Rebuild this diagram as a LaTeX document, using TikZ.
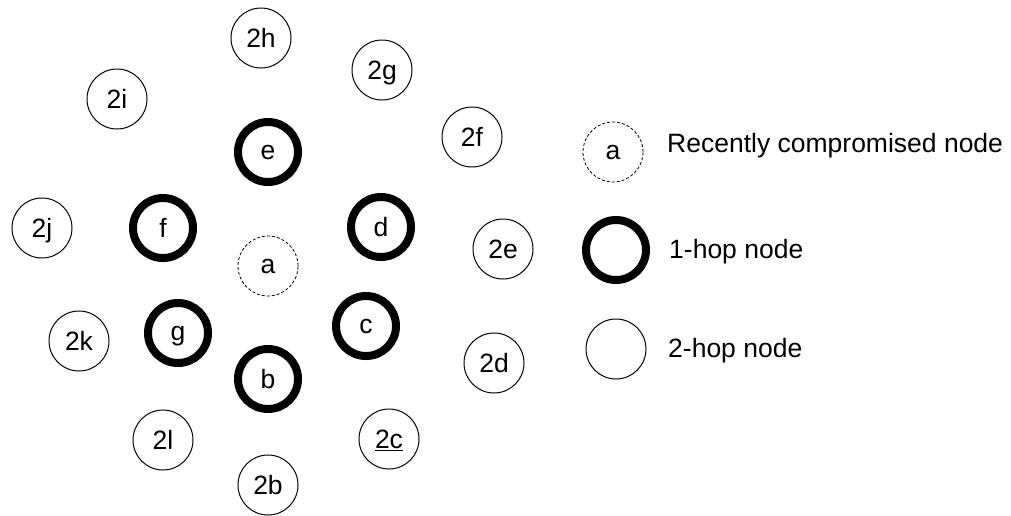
\documentclass[tikz,border=0pt]{standalone}
\usepackage{fontspec}
\setmainfont{Liberation Sans}
\begin{document}
\begin{tikzpicture}[x=1pt, y=-1pt,
    hop/.style={circle, draw=black, minimum size=60pt, inner sep=0pt, text depth=0pt, font=\fontsize{26.5}{30}\selectfont},
    compromised/.style={hop, dashed, dash pattern=on 3pt off 2pt, line width=0.8pt},
    onehop/.style={hop, line width=8pt},
    twohop/.style={hop, line width=1pt},
    legendtext/.style={anchor=west, inner sep=0pt, text depth=0pt, font=\fontsize{26.5}{30}\selectfont}]

    % 画布大小
    \useasboundingbox (0, 0) rectangle (1011, 515);

    % 最近被攻陷的节点
    \node[compromised] (a) at (268, 266) {a};

    % 一跳节点
    \node[onehop] (e) at (268, 152) {e};
    \node[onehop] (d) at (381, 227) {d};
    \node[onehop] (c) at (366, 326) {c};
    \node[onehop] (b) at (268, 379) {b};
    \node[onehop] (g) at (178, 333) {g};
    \node[onehop] (f) at (163, 228) {f};

    % 两跳节点
    \node[twohop] (2h) at (261, 38) {2h};
    \node[twohop] (2g) at (382, 70) {2g};
    \node[twohop] (2f) at (472, 137) {2f};
    \node[twohop] (2e) at (503, 249) {2e};
    \node[twohop] (2d) at (494, 363) {2d};
    \node[twohop] (2c) at (389, 439) {\underline{2c}};
    \node[twohop] (2b) at (268, 485) {2b};
    \node[twohop] (2l) at (163, 440) {2l};
    \node[twohop] (2k) at (79, 341) {2k};
    \node[twohop] (2j) at (42, 228) {2j};
    \node[twohop] (2i) at (117, 99) {2i};

    % 图例
    \node[compromised] (la) at (613, 152) {a};
    \node[onehop] (l1) at (616, 250) {};
    \node[twohop] (l2) at (616, 349) {};
    \node[legendtext] (ta) at (667, 143) {Recently compromised node};
    \node[legendtext] (t1) at (669, 249) {1-hop node};
    \node[legendtext] (t2) at (668, 348) {2-hop node};

\end{tikzpicture}
\end{document}
